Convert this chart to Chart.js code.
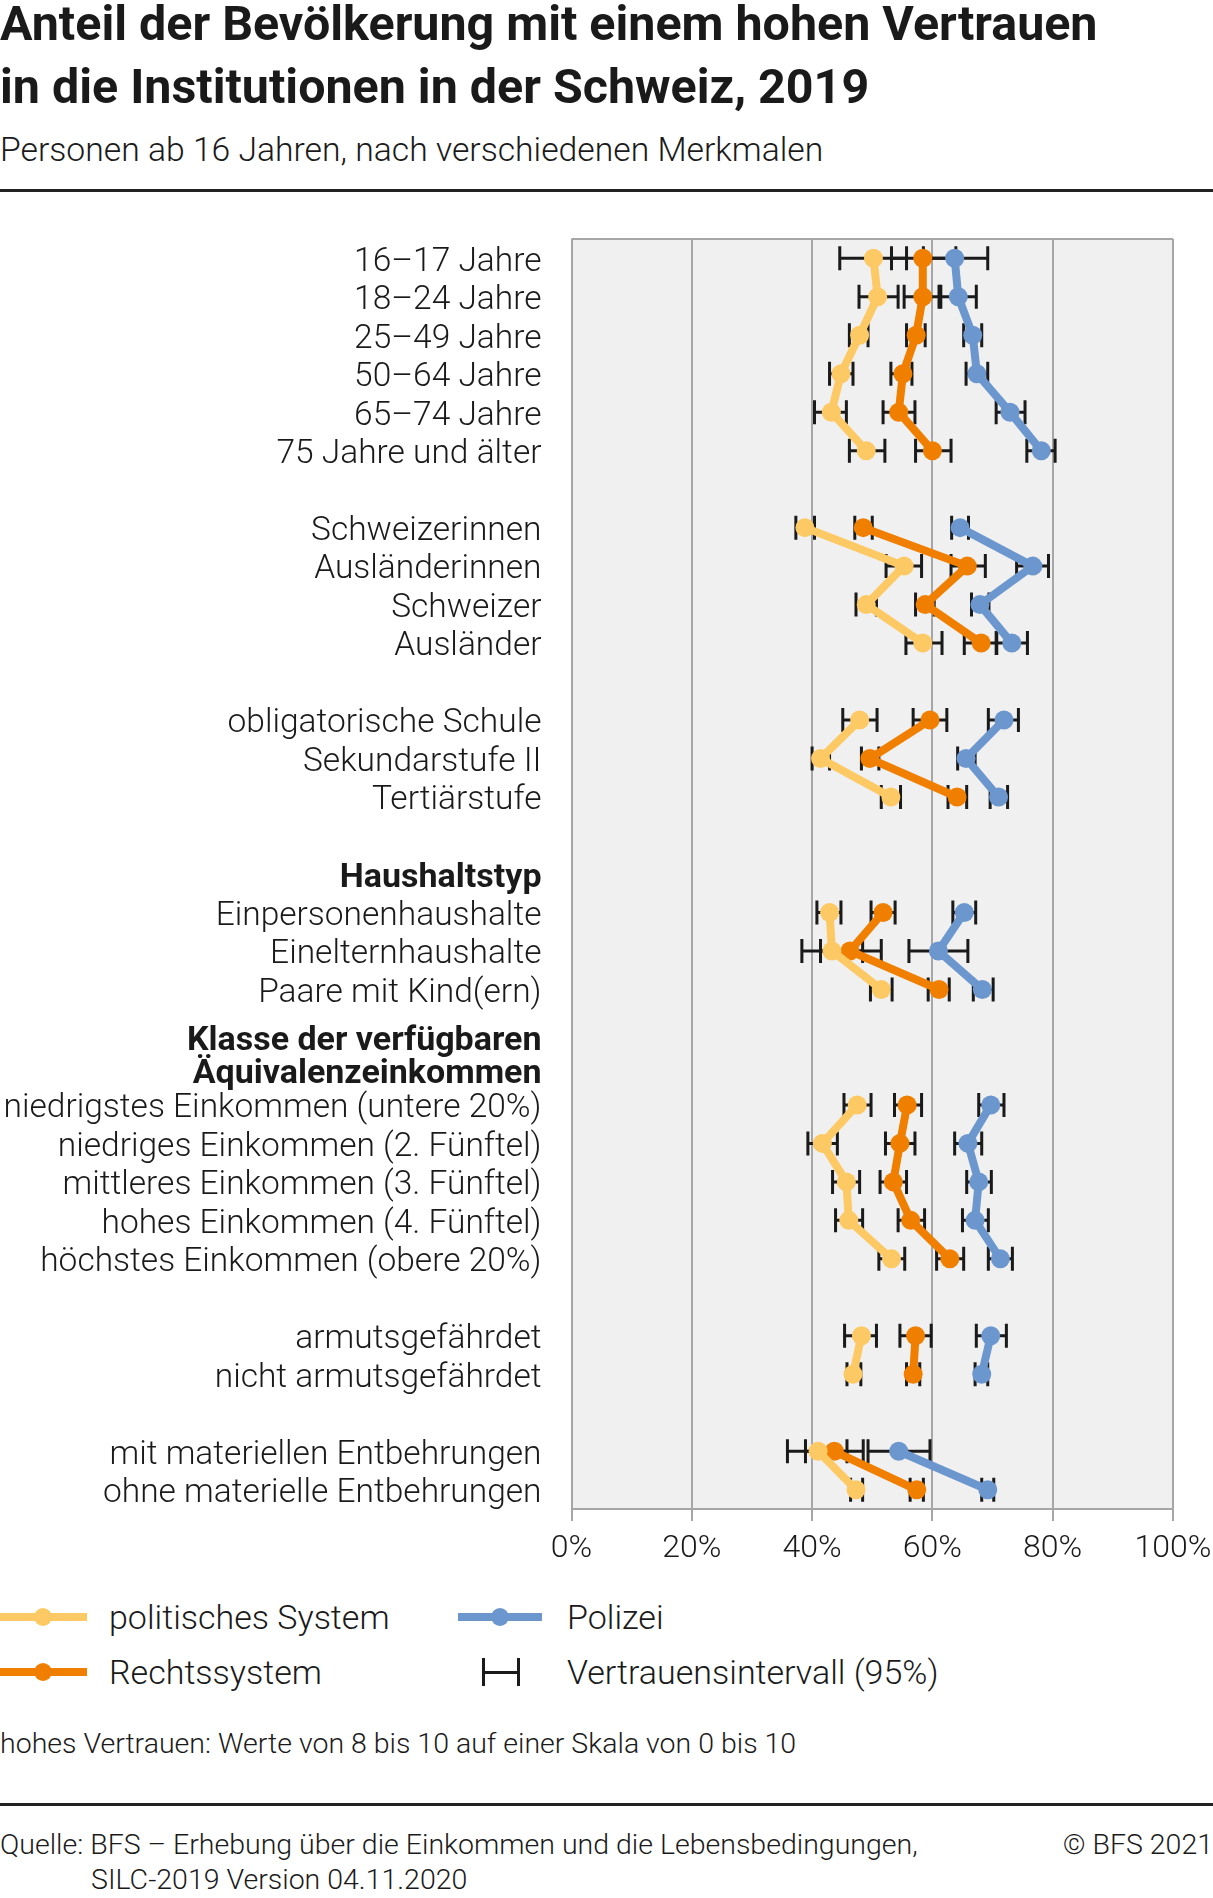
<!DOCTYPE html>
<html>
<head>
<meta charset="utf-8">
<script src="https://cdn.jsdelivr.net/npm/chart.js@4.4.0/dist/chart.umd.min.js"></script>
<style>
body { margin: 0; width: 1213px; height: 1898px; background: #fff; font-family: Roboto, sans-serif; color: #1a1a1a; position: relative; overflow: hidden; }
.t { position: absolute; white-space: nowrap; }
.title { left: 0; top: -8px; font-size: 48.4px; font-weight: 700; line-height: 63px; }
.sub { left: 0; top: 131px; font-size: 33.7px; font-weight: 300; line-height: 38px; }
.rule { position: absolute; left: 0; width: 1213px; height: 3px; background: #222; }
.lg { font-size: 34px; font-weight: 300; line-height: 38px; }
.sw { position: absolute; height: 8px; }
.dot { position: absolute; width: 18px; height: 18px; border-radius: 9px; }
.small { font-size: 28.5px; font-weight: 300; line-height: 36px; }
#wrap { position: absolute; left: 0; top: 200px; width: 1213px; height: 1380px; }
</style>
</head>
<body>
<div class="t title">Anteil der Bevölkerung mit einem hohen Vertrauen<br>in die Institutionen in der Schweiz, 2019</div>
<div class="t sub">Personen ab 16 Jahren, nach verschiedenen Merkmalen</div>
<div class="rule" style="top:189px"></div>

<div id="wrap"><canvas id="chart" width="1213" height="1380"></canvas></div>

<!-- legend -->
<div class="sw" style="left:0;width:87px;top:1613px;background:#fdc964"></div>
<div class="dot" style="left:34px;top:1608px;background:#fdc964"></div>
<div class="t lg" style="left:109px;top:1598px">politisches System</div>
<div class="sw" style="left:458px;width:84px;top:1613px;background:#6b97ce"></div>
<div class="dot" style="left:491px;top:1608px;background:#6b97ce"></div>
<div class="t lg" style="left:567px;top:1598px">Polizei</div>

<div class="sw" style="left:0;width:87px;top:1668px;background:#f07f00"></div>
<div class="dot" style="left:34px;top:1663px;background:#f07f00"></div>
<div class="t lg" style="left:109px;top:1653px">Rechtssystem</div>
<div style="position:absolute;left:482px;top:1658px;width:3px;height:28px;background:#1a1a1a"></div>
<div style="position:absolute;left:517px;top:1658px;width:3px;height:28px;background:#1a1a1a"></div>
<div style="position:absolute;left:482px;top:1671px;width:38px;height:3px;background:#1a1a1a"></div>
<div class="t lg" style="left:567px;top:1653px">Vertrauensintervall (95%)</div>

<div class="t small" style="left:0;top:1726px">hohes Vertrauen: Werte von 8 bis 10 auf einer Skala von 0 bis 10</div>
<div class="rule" style="top:1803px"></div>
<div class="t small" style="left:0;top:1827px">Quelle: BFS – Erhebung über die Einkommen und die Lebensbedingungen,</div>
<div class="t small" style="left:91px;top:1862px">SILC-2019 Version 04.11.2020</div>
<div class="t small" style="right:0;top:1827px">© BFS 2021</div>

<script>
// Zeilen (leere Strings = Abstandszeilen)
var labels = [
    '16–17 Jahre', '18–24 Jahre', '25–49 Jahre', '50–64 Jahre', '65–74 Jahre', '75 Jahre und älter', '',
    'Schweizerinnen', 'Ausländerinnen', 'Schweizer', 'Ausländer', '',
    'obligatorische Schule', 'Sekundarstufe II', 'Tertiärstufe', '',
    'Haushaltstyp', 'Einpersonenhaushalte', 'Einelternhaushalte', 'Paare mit Kind(ern)', '', '',
    'niedrigstes Einkommen (untere 20%)', 'niedriges Einkommen (2. Fünftel)', 'mittleres Einkommen (3. Fünftel)',
    'hohes Einkommen (4. Fünftel)', 'höchstes Einkommen (obere 20%)', '',
    'armutsgefährdet', 'nicht armutsgefährdet', '',
    'mit materiellen Entbehrungen', 'ohne materielle Entbehrungen'
];
var boldRows = [16];
var headerText = ['Klasse der verfügbaren', 'Äquivalenzeinkommen'];
var headerRows = [20, 21];

var politik   = [50.2, 50.9, 47.9, 44.8, 43.2, 49.0, null, 38.8, 55.3, 49.0, 58.4, null, 47.9, 41.4, 53.1, null, null, 42.9, 43.3, 51.5, null, null, 47.5, 41.7, 45.7, 46.1, 53.2, null, 48.2, 46.8, null, 41.0, 47.3];
var politikLo = [44.6, 47.8, 46.2, 42.9, 40.4, 46.2, null, 37.3, 52.3, 47.3, 55.6, null, 45.1, 40.0, 51.5, null, null, 40.8, 38.3, 49.7, null, null, 45.3, 39.3, 43.4, 43.9, 51.1, null, 45.4, 45.8, null, 35.9, 46.4];
var politikHi = [55.7, 54.3, 49.3, 46.8, 45.7, 52.1, null, 40.4, 58.2, 50.7, 61.6, null, 50.8, 42.9, 54.7, null, null, 44.8, 48.4, 53.3, null, null, 49.8, 44.2, 47.9, 48.4, 55.4, null, 50.7, 48.1, null, 45.8, 48.4];

var recht   = [58.4, 58.4, 57.3, 55.1, 54.4, 60.0, null, 48.5, 65.8, 58.8, 68.1, null, 59.6, 49.6, 64.1, null, null, 51.8, 46.3, 61.1, null, null, 55.8, 54.6, 53.5, 56.4, 62.9, null, 57.2, 56.8, null, 43.7, 57.4];
var rechtLo = [53.2, 55.3, 55.7, 53.1, 51.8, 57.2, null, 47.1, 63.1, 57.2, 65.3, null, 56.8, 48.2, 62.6, null, null, 49.8, 41.4, 59.3, null, null, 53.7, 52.2, 51.3, 54.3, 60.7, null, 54.6, 55.7, null, 38.9, 56.3];
var rechtHi = [63.9, 61.4, 58.8, 56.6, 57.1, 63.1, null, 50.0, 68.8, 60.3, 70.7, null, 62.4, 51.1, 65.7, null, null, 53.8, 51.5, 62.8, null, null, 58.2, 57.1, 55.7, 58.7, 65.2, null, 59.8, 57.9, null, 48.5, 58.5];

var polizei   = [63.7, 64.3, 66.7, 67.4, 72.9, 78.1, null, 64.6, 76.7, 67.9, 73.2, null, 71.9, 65.6, 71.0, null, null, 65.3, 61.0, 68.3, null, null, 69.7, 65.9, 67.7, 67.1, 71.3, null, 69.7, 68.2, null, 54.4, 69.2];
var polizeiLo = [58.5, 61.1, 65.2, 65.6, 70.6, 75.7, null, 63.2, 74.0, 66.5, 70.6, null, 69.3, 64.2, 69.6, null, null, 63.4, 56.1, 66.8, null, null, 67.7, 63.7, 65.7, 65.0, 69.3, null, 67.3, 67.1, null, 49.3, 68.2];
var polizeiHi = [69.2, 67.3, 68.2, 69.2, 75.4, 80.4, null, 66.0, 79.3, 69.4, 75.8, null, 74.3, 67.1, 72.5, null, null, 67.2, 65.9, 70.1, null, null, 71.9, 68.2, 69.8, 69.3, 73.3, null, 72.3, 69.2, null, 59.6, 70.2];

var gridColor = '#a6a6a6';

function series(label, data, lo, hi, color) {
    return {
        label: label, data: data, lo: lo, hi: hi,
        borderColor: color, backgroundColor: color,
        borderWidth: 8, pointRadius: 9.5, pointHoverRadius: 9.5, pointBorderWidth: 0,
        spanGaps: false, tension: 0
    };
}

// Hintergrund + oberer Rahmen
var plotBg = {
    id: 'plotBg',
    beforeDraw: function(chart) {
        var a = chart.chartArea, ctx = chart.ctx;
        ctx.save();
        ctx.fillStyle = '#f0f0f0';
        ctx.fillRect(a.left, a.top, a.right - a.left, a.bottom - a.top);
        ctx.restore();
    },
    beforeDatasetsDraw: function(chart) {
        var a = chart.chartArea, ctx = chart.ctx;
        ctx.save();
        ctx.strokeStyle = gridColor;
        ctx.lineWidth = 2;
        ctx.beginPath();
        ctx.moveTo(a.left, a.top);
        ctx.lineTo(a.right, a.top);
        ctx.stroke();
        ctx.restore();
    }
};

// Vertrauensintervalle
var errorBars = {
    id: 'errorBars',
    beforeDatasetsDraw: function(chart) {
        var ctx = chart.ctx, x = chart.scales.x, y = chart.scales.y;
        ctx.save();
        ctx.strokeStyle = '#1a1a1a';
        ctx.lineWidth = 3;
        chart.data.datasets.forEach(function(ds) {
            ds.lo.forEach(function(lo, i) {
                if (lo == null) return;
                var yy = y.getPixelForValue(i);
                var x1 = x.getPixelForValue(lo), x2 = x.getPixelForValue(ds.hi[i]);
                ctx.beginPath();
                ctx.moveTo(x1, yy); ctx.lineTo(x2, yy);
                ctx.moveTo(x1, yy - 12); ctx.lineTo(x1, yy + 12);
                ctx.moveTo(x2, yy - 12); ctx.lineTo(x2, yy + 12);
                ctx.stroke();
            });
        });
        ctx.restore();
    }
};

// zweizeiliger Gruppentitel
var header = {
    id: 'header',
    afterDraw: function(chart) {
        var ctx = chart.ctx, y = chart.scales.y;
        var mid = (y.getPixelForValue(headerRows[0]) + y.getPixelForValue(headerRows[1])) / 2;
        ctx.save();
        ctx.font = 'bold 34px Roboto';
        ctx.fillStyle = '#1a1a1a';
        ctx.textAlign = 'right';
        ctx.textBaseline = 'middle';
        ctx.fillText(headerText[0], y.right - 30, mid - 6);
        ctx.fillText(headerText[1], y.right - 30, mid + 27);
        ctx.restore();
    }
};

window.onload = function() {
    var ctx = document.getElementById('chart').getContext('2d');
    window.myChart = new Chart(ctx, {
        type: 'line',
        data: {
            labels: labels,
            datasets: [
                series('politisches System', politik, politikLo, politikHi, '#fdc964'),
                series('Rechtssystem', recht, rechtLo, rechtHi, '#f07f00'),
                series('Polizei', polizei, polizeiLo, polizeiHi, '#6b97ce')
            ]
        },
        options: {
            responsive: false,
            animation: false,
            indexAxis: 'y',
            layout: { padding: { top: 39, right: 40, bottom: 11, left: 0 } },
            plugins: { legend: { display: false }, tooltip: { enabled: false } },
            scales: {
                x: {
                    type: 'linear', min: 0, max: 100,
                    grid: { color: gridColor, lineWidth: 2, drawTicks: true, tickLength: 12, tickColor: gridColor },
                    border: { color: gridColor, width: 2 },
                    ticks: {
                        stepSize: 20, padding: 9, color: '#1a1a1a',
                        font: { family: 'Roboto', size: 32, weight: 300 },
                        callback: function(v) { return v + '%'; }
                    },
                    afterFit: function(s) { s.height = 60; s.paddingLeft = 0; s.paddingRight = 0; }
                },
                y: {
                    type: 'category', offset: true,
                    grid: { display: false, drawTicks: false },
                    border: { display: false },
                    ticks: {
                        autoSkip: false, padding: 30, labelOffset: 4, color: '#1a1a1a',
                        font: function(c) {
                            var b = boldRows.indexOf(c.index) >= 0;
                            return { family: 'Roboto', size: b ? 34 : 33.5, weight: b ? 'bold' : 300 };
                        }
                    },
                    afterFit: function(s) { s.width = 571.5; s.paddingTop = 0; s.paddingBottom = 0; }
                }
            }
        },
        plugins: [plotBg, errorBars, header]
    });
};
</script>
</body>
</html>
